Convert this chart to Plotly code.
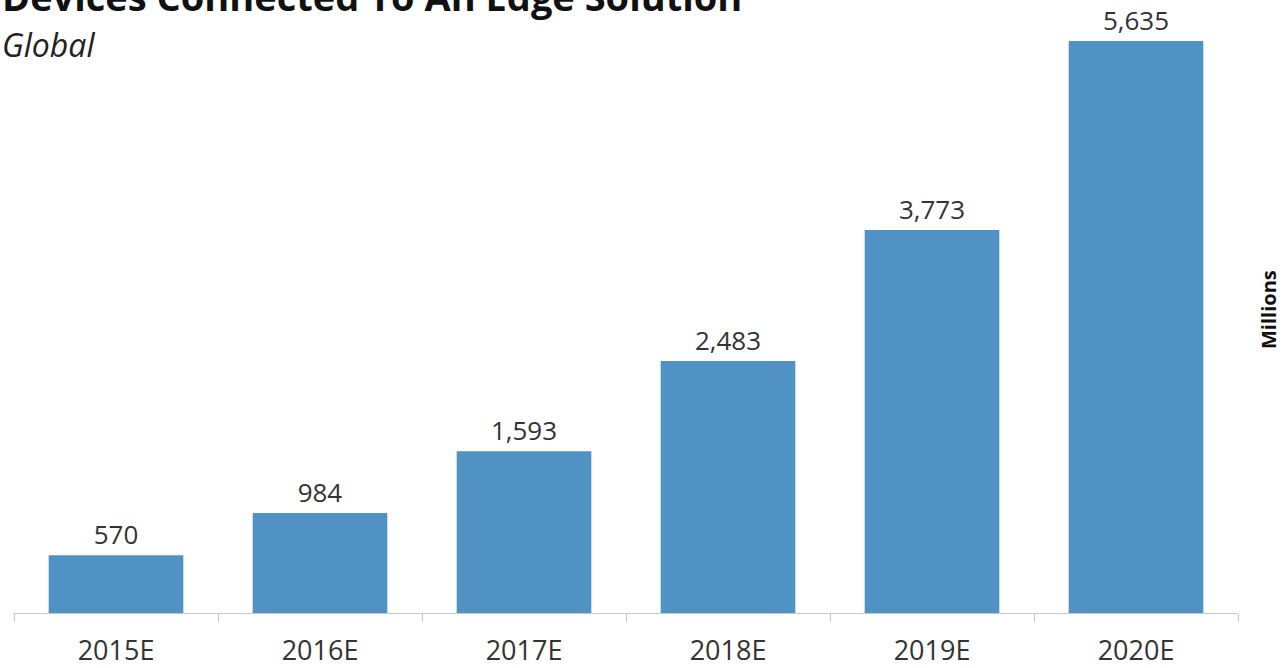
import plotly.graph_objects as go

categories = ["2015E", "2016E", "2017E", "2018E", "2019E", "2020E"]
devices_millions = [570, 984, 1593, 2483, 3773, 5635]
value_labels = [f"{v:,}" for v in devices_millions]

title_text = "Devices Connected To An Edge Solution"
subtitle_text = "Global"
unit_text = "Millions"

FONT = "Open Sans"
TEXT_COLOR = "#333333"
BAR_COLOR = "#5092C4"

fig = go.Figure(
    go.Bar(
        x=categories,
        y=devices_millions,
        text=value_labels,
        textposition="outside",
        textfont=dict(family=FONT, size=26, color=TEXT_COLOR),
        marker=dict(color=BAR_COLOR, line=dict(width=0)),
        cliponaxis=False,
        hoverinfo="x+y",
    )
)

fig.update_layout(
    width=1285,
    height=668,
    margin=dict(l=14, r=47, t=4, b=55),
    paper_bgcolor="white",
    plot_bgcolor="white",
    bargap=0.34,
    showlegend=False,
    font=dict(family=FONT, color=TEXT_COLOR),
    xaxis=dict(
        type="category",
        automargin=False,
        showline=True,
        linecolor="#C8C8C8",
        linewidth=1,
        ticks="outside",
        tickson="boundaries",
        ticklen=8,
        tickcolor="#C8C8C8",
        ticklabelstandoff=14,
        tickfont=dict(family=FONT, size=27, color=TEXT_COLOR),
        showgrid=False,
        zeroline=False,
    ),
    yaxis=dict(
        range=[0, 6000],
        visible=False,
        showgrid=False,
        zeroline=False,
    ),
    annotations=[
        dict(
            text=f"<b>{title_text}</b>",
            xref="paper", yref="paper",
            x=-14 / 1224, y=(613 + 4) / 609,
            xanchor="left", yanchor="middle",
            showarrow=False,
            font=dict(family=FONT, size=38, color="#111111"),
        ),
        dict(
            text=f"<i>{subtitle_text}</i>",
            xref="paper", yref="paper",
            x=-14 / 1224, y=(613 - 44) / 609,
            xanchor="left", yanchor="middle",
            showarrow=False,
            font=dict(family=FONT, size=32, color="#222222"),
        ),
        dict(
            text=f"<b>{unit_text}</b>",
            xref="paper", yref="paper",
            x=(1268 - 14) / 1224, y=(613 - 310) / 609,
            xanchor="center", yanchor="middle",
            textangle=-90,
            showarrow=False,
            font=dict(family=FONT, size=20, color="#111111"),
        ),
    ],
)

fig.write_html("out.html")
